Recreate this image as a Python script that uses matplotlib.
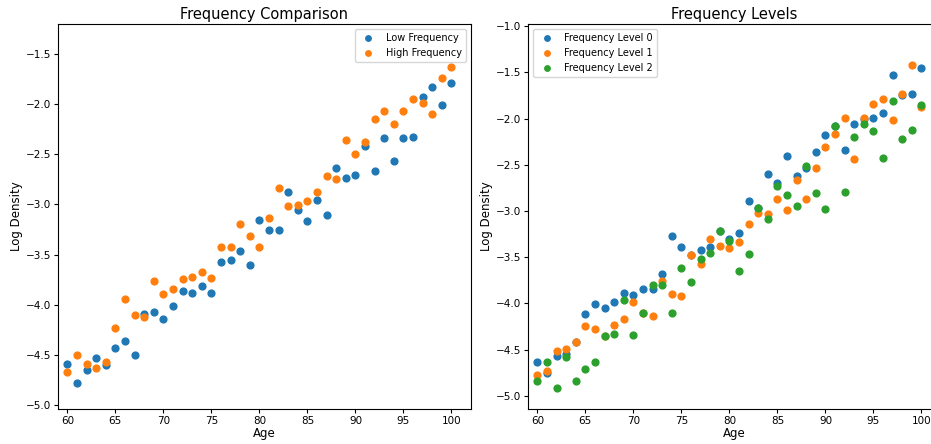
import numpy as np
import matplotlib
matplotlib.use('Agg')
import matplotlib.pyplot as plt

# ages shared by both panels
ages = np.arange(60, 101)

# left panel: log density for low / high frequency
low_freq = [-4.59, -4.78, -4.65, -4.53, -4.60, -4.43, -4.36, -4.50, -4.09, -4.07,
            -4.14, -4.01, -3.86, -3.88, -3.81, -3.88, -3.57, -3.55, -3.46, -3.60,
            -3.15, -3.25, -3.25, -2.88, -3.06, -3.16, -2.96, -3.11, -2.64, -2.74,
            -2.71, -2.42, -2.67, -2.34, -2.57, -2.34, -2.33, -1.93, -1.83, -2.01,
            -1.79]
high_freq = [-4.67, -4.50, -4.59, -4.63, -4.57, -4.23, -3.94, -4.10, -4.12, -3.76,
             -3.89, -3.84, -3.74, -3.72, -3.67, -3.73, -3.42, -3.42, -3.19, -3.31,
             -3.42, -3.13, -2.84, -3.02, -3.01, -2.97, -2.88, -2.72, -2.75, -2.36,
             -2.50, -2.38, -2.15, -2.07, -2.20, -2.07, -1.95, -1.99, -2.10, -1.74,
             -1.63]

# right panel: three frequency levels
level0 = [-4.64, -4.75, -4.57, -4.55, -4.42, -4.12, -4.01, -4.05, -3.99, -3.89,
          -3.91, -3.84, -3.85, -3.68, -3.27, -3.39, -3.48, -3.42, -3.39, -3.22,
          -3.30, -3.24, -2.89, -2.97, -2.60, -2.70, -2.40, -2.62, -2.53, -2.36,
          -2.18, -2.08, -2.34, -2.06, -2.00, -1.99, -1.94, -1.53, -1.75, -1.73,
          -1.45]
level1 = [-4.78, -4.73, -4.52, -4.49, -4.42, -4.25, -4.28, -4.35, -4.23, -4.17,
          -3.98, -4.10, -4.14, -3.76, -3.90, -3.92, -3.48, -3.57, -3.30, -3.38,
          -3.40, -3.34, -3.14, -3.02, -3.03, -2.87, -2.99, -2.66, -2.87, -2.54,
          -2.31, -2.17, -1.99, -2.44, -1.99, -1.84, -1.79, -2.02, -1.73, -1.42,
          -1.87]
level2 = [-4.84, -4.64, -4.92, -4.58, -4.84, -4.71, -4.63, -4.35, -4.33, -3.96,
          -4.34, -4.10, -3.80, -3.80, -4.10, -3.62, -3.77, -3.52, -3.45, -3.22,
          -3.33, -3.65, -3.47, -2.97, -3.09, -2.73, -2.83, -2.95, -2.51, -2.81,
          -2.98, -2.08, -2.79, -2.20, -2.06, -2.14, -2.43, -1.81, -2.22, -2.12,
          -1.85]

plt.rcParams['font.family'] = 'DejaVu Sans'
fig = plt.figure(figsize=(9.31, 4.44), dpi=100)

W, H = 931, 444
ax1 = fig.add_axes([58.3 / W, 1 - 408.7 / H, 412.4 / W, 384.4 / H])
ax2 = fig.add_axes([528.3 / W, 1 - 408.7 / H, 412.4 / W, 384.4 / H])

dot = 24

# --- left: low vs high frequency ---
ax1.scatter(ages, low_freq, s=dot, color='#1f77b4', label='Low Frequency')
ax1.scatter(ages, high_freq, s=dot, color='#ff7f0e', label='High Frequency')
ax1.set_title('Frequency Comparison', fontsize=10.5, pad=4)
ax1.set_xlim(59.06, 102.0)
ax1.set_ylim(-5.04, -1.2)
ax1.legend(loc='upper right', fontsize=7, markerscale=0.8)

# --- right: frequency levels ---
for vals, col, lab in [(level0, '#1f77b4', 'Frequency Level 0'),
                       (level1, '#ff7f0e', 'Frequency Level 1'),
                       (level2, '#2ca02c', 'Frequency Level 2')]:
    ax2.scatter(ages, vals, s=dot, color=col, label=lab)
ax2.set_title('Frequency Levels', fontsize=10.5, pad=4)
ax2.set_xlim(59.06, 102.0)
ax2.set_ylim(-5.14, -0.98)
ax2.legend(loc='upper left', fontsize=7, markerscale=0.8)

for ax in (ax1, ax2):
    ax.set_xlabel('Age', fontsize=8.5, labelpad=1)
    ax.set_ylabel('Log Density', fontsize=8.5, labelpad=2)
    ax.set_xticks([60, 65, 70, 75, 80, 85, 90, 95, 100])
    ax.tick_params(labelsize=7.5, length=3, pad=2)

fig.savefig('out.png', dpi=100)
